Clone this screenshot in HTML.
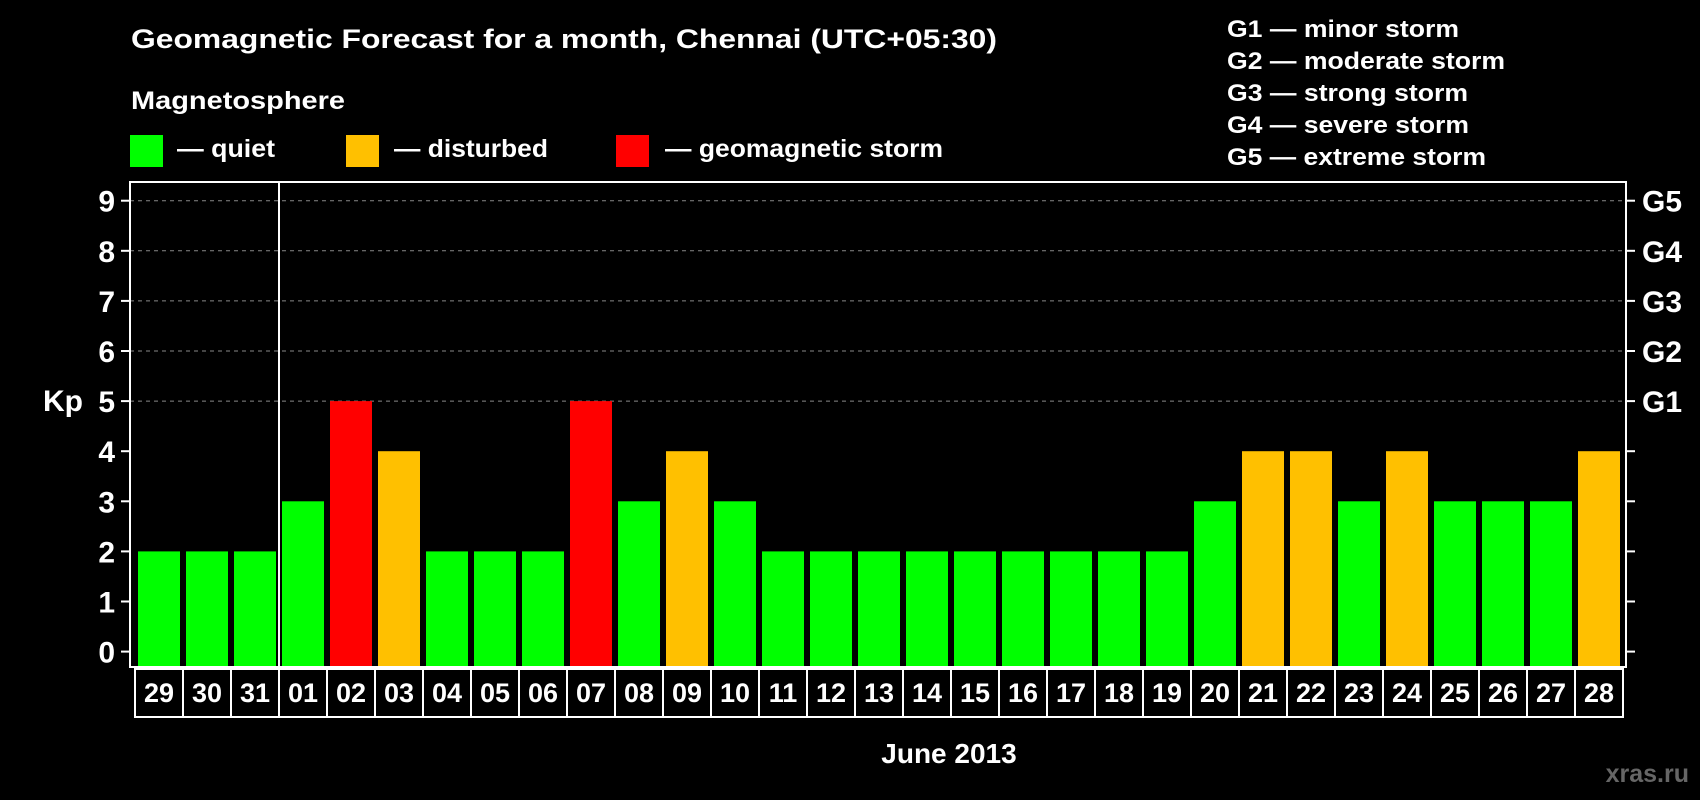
<!DOCTYPE html>
<html><head><meta charset="utf-8"><style>
html,body{margin:0;padding:0;background:#000;}
svg{display:block;font-family:"Liberation Sans",Arial,sans-serif;font-weight:bold;}
</style></head><body>
<svg id="chart" width="1700" height="800" viewBox="0 0 1700 800">
<rect x="0" y="0" width="1700" height="800" fill="#000"/>
<text x="131" y="48" fill="#fff" font-size="27" textLength="866" lengthAdjust="spacingAndGlyphs">Geomagnetic Forecast for a month, Chennai (UTC+05:30)</text>
<text x="131" y="109" fill="#fff" font-size="25" textLength="214" lengthAdjust="spacingAndGlyphs">Magnetosphere</text>
<g>
<rect x="130" y="135" width="33" height="32" fill="#00ff00"/>
<text x="177" y="157" fill="#fff" font-size="25" textLength="98" lengthAdjust="spacingAndGlyphs">— quiet</text>
<rect x="346" y="135" width="33" height="32" fill="#ffc000"/>
<text x="394" y="157" fill="#fff" font-size="25" textLength="154" lengthAdjust="spacingAndGlyphs">— disturbed</text>
<rect x="616" y="135" width="33" height="32" fill="#ff0000"/>
<text x="665" y="157" fill="#fff" font-size="25" textLength="278" lengthAdjust="spacingAndGlyphs">— geomagnetic storm</text>
</g>
<g fill="#fff" font-size="24">
<text x="1227" y="37" textLength="232" lengthAdjust="spacingAndGlyphs">G1 — minor storm</text>
<text x="1227" y="69" textLength="278" lengthAdjust="spacingAndGlyphs">G2 — moderate storm</text>
<text x="1227" y="101" textLength="241" lengthAdjust="spacingAndGlyphs">G3 — strong storm</text>
<text x="1227" y="133" textLength="242" lengthAdjust="spacingAndGlyphs">G4 — severe storm</text>
<text x="1227" y="165" textLength="259" lengthAdjust="spacingAndGlyphs">G5 — extreme storm</text>
</g>
<text x="43" y="411" fill="#fff" font-size="30">Kp</text>
<text x="949" y="763" fill="#fff" font-size="28" text-anchor="middle">June 2013</text>
<text x="1689" y="782" fill="#666" font-size="25" text-anchor="end">xras.ru</text>
<g id="plot"></g>
</svg>
<script>
const days = ["29","30","31","01","02","03","04","05","06","07","08","09","10","11","12","13","14","15","16","17","18","19","20","21","22","23","24","25","26","27","28"];
const kpValues = [2,2,2,3,5,4,2,2,2,5,3,4,3,2,2,2,2,2,2,2,2,2,3,4,4,3,4,3,3,3,4];
const yTicks = [0,1,2,3,4,5,6,7,8,9];
const gLabels = ["G1","G2","G3","G4","G5"];
const gLevels = [5,6,7,8,9];

const NS = "http://www.w3.org/2000/svg";
const g = document.getElementById("plot");
const L = 130, R = 1626, T = 182, B = 667;
const y0 = 651.6, unit = 50.1;
const yScale = v => y0 - v * unit;
const barStart = 138, pitch = 48, barW = 42;
const xScale = i => barStart + i * pitch;
function mk(tag, attrs) {
  const e = document.createElementNS(NS, tag);
  for (const k in attrs) e.setAttribute(k, attrs[k]);
  g.appendChild(e);
  return e;
}
gLevels.forEach(v => {
  const ln = mk("line", {x1: L, x2: R, y1: yScale(v), y2: yScale(v), stroke: "#888", "stroke-width": 1, "stroke-dasharray": "4,4"});
  
  
});
kpValues.forEach((v, i) => {
  const col = v >= 5 ? "#ff0000" : (v >= 4 ? "#ffc000" : "#00ff00");
  const r = mk("rect", {x: xScale(i), y: yScale(v), width: barW, height: B - 1 - yScale(v), fill: col});
  
  
});
const fr = mk("rect", {x: L, y: T, width: R - L, height: B - T, fill: "none", stroke: "#fff", "stroke-width": 2});


const dv = mk("line", {x1: xScale(3) - 3, x2: xScale(3) - 3, y1: T, y2: B, stroke: "#fff", "stroke-width": 2});


yTicks.forEach(v => {
  const y = yScale(v);
  const t1 = mk("line", {x1: 121, x2: L, y1: y, y2: y, stroke: "#fff", "stroke-width": 2});
  
  
  const t2 = mk("line", {x1: R, x2: 1635, y1: y, y2: y, stroke: "#fff", "stroke-width": 2});
  
  
  const tx = mk("text", {x: 115, y: y + 11, fill: "#fff", "font-size": 30, "text-anchor": "end"});
  tx.textContent = v;
  
  
});
gLabels.forEach((lb, i) => {
  const tx = mk("text", {x: 1642, y: yScale(gLevels[i]) + 11, fill: "#fff", "font-size": 30});
  tx.textContent = lb;
  
  
});
days.forEach((d, i) => {
  const bx = 135 + i * pitch;
  const r = mk("rect", {x: bx, y: 669, width: pitch, height: 48, fill: "none", stroke: "#fff", "stroke-width": 2});
  
  
  const tx = mk("text", {x: bx + pitch / 2, y: 702, fill: "#fff", "font-size": 27, "text-anchor": "middle"});
  tx.textContent = d;
  
  
});
</script>
</body></html>
